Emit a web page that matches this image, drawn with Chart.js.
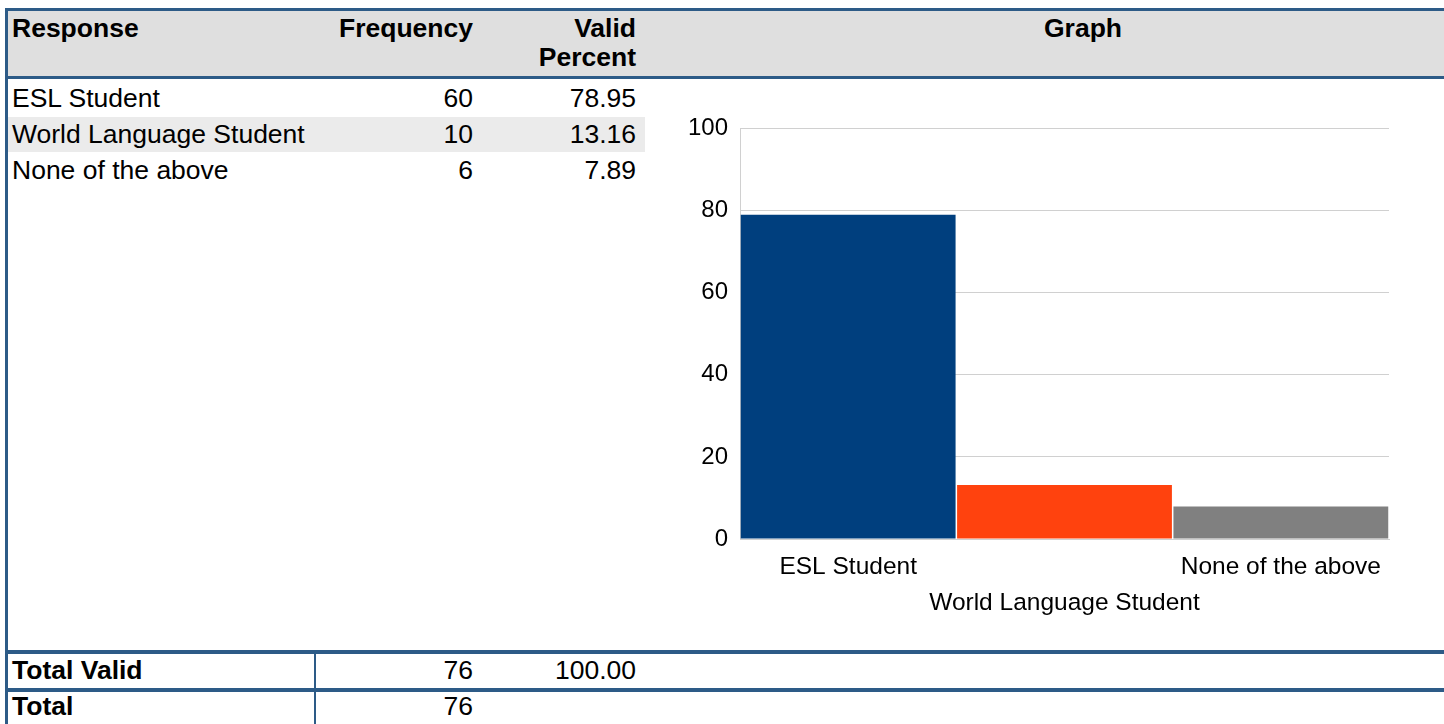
<!DOCTYPE html>
<html>
<head>
<meta charset="utf-8">
<script src="https://cdn.jsdelivr.net/npm/chart.js@4/dist/chart.umd.min.js"></script>
<style>
  body { margin: 0; width: 1444px; height: 724px; overflow: hidden; background: #fff;
         font-family: 'Liberation Sans', Arial, sans-serif; color: #000; position: relative; }
  .abs { position: absolute; }
  .hline { position: absolute; background: #2d5b87; }
  .vline { position: absolute; background: #2d5b87; }
  .txt { position: absolute; font-size: 26.5px; line-height: 29px; white-space: nowrap; }
  .b { font-weight: bold; }
  .r { text-align: right; }
</style>
</head>
<body>
<div class="abs" style="left:8px; top:10px; width:1436px; height:66px; background:#dfdfdf;"></div>
<div class="hline" style="left:5px; top:8px; width:1439px; height:3px;"></div>
<div class="hline" style="left:5px; top:76px; width:1439px; height:3px;"></div>
<div class="vline" style="left:5px; top:8px; width:3px; height:716px;"></div>

<div class="txt b" style="left:12px; top:14px;">Response</div>
<div class="txt b r" style="left:300px; width:173px; top:14px;">Frequency</div>
<div class="txt b r" style="left:480px; width:156px; top:14px;">Valid<br>Percent</div>
<div class="txt b" style="left:660px; width:846px; top:14px; text-align:center;">Graph</div>

<div id="rows"></div>

<div class="hline" style="left:5px; top:650px; width:1439px; height:4px;"></div>
<div class="hline" style="left:5px; top:688px; width:1439px; height:4px;"></div>
<div class="vline" style="left:314px; top:652px; width:2px; height:72px;"></div>
<div id="totals"></div>

<div class="abs" style="left:660px; top:102px; width:784px; height:528px;">
  <canvas id="graph"></canvas>
</div>

<script>
// Data
const responses = ['ESL Student', 'World Language Student', 'None of the above'];
const frequency = [60, 10, 6];
const validPercent = [78.95, 13.16, 7.89];
const totalValid = 76;
const totalValidPercent = 100.00;
const total = 76;
const yTicks = [0, 20, 40, 60, 80, 100];

const barColors = ['#003f7e', '#ff420e', '#808080'];

// table rows
const rowsDiv = document.getElementById('rows');
responses.forEach((resp, i) => {
  const top = 84 + i * 36;
  if (i % 2 == 1) {
    const band = document.createElement('div');
    band.className = 'abs';
    band.style.cssText = `left:8px; top:${top - 3}px; width:637px; height:35px; background:#ebebeb;`;
    rowsDiv.appendChild(band);
  }
  rowsDiv.insertAdjacentHTML('beforeend',
    `<div class="txt" style="left:12px; top:${top}px;">${resp}</div>` +
    `<div class="txt r" style="left:400px; width:73px; top:${top}px;">${frequency[i]}</div>` +
    `<div class="txt r" style="left:500px; width:136px; top:${top}px;">${validPercent[i].toFixed(2)}</div>`);
});

document.getElementById('totals').innerHTML =
  `<div class="txt b" style="left:12px; top:656px;">Total Valid</div>` +
  `<div class="txt r" style="left:400px; width:73px; top:656px;">${totalValid}</div>` +
  `<div class="txt r" style="left:500px; width:136px; top:656px;">${totalValidPercent.toFixed(2)}</div>` +
  `<div class="txt b" style="left:12px; top:692px;">Total</div>` +
  `<div class="txt r" style="left:400px; width:73px; top:692px;">${total}</div>`;

// graph
new Chart(
  document.getElementById('graph'),
  {
    type: 'bar',
    data: {
      // stagger the middle label onto a second line
      labels: responses.map((r, i) => i % 2 == 1 ? ['', r] : r),
      datasets: [
        {
          label: 'Valid Percent',
          data: validPercent,
          backgroundColor: barColors,
          borderWidth: 0,
          barPercentage: 0.993,
          categoryPercentage: 1
        }
      ]
    },
    options: {
      responsive: true,
      maintainAspectRatio: false,
      animation: false,
      layout: { padding: { top: 0, right: 55, left: 0, bottom: 0 } },
      plugins: {
        legend: { display: false },
        tooltip: { enabled: false }
      },
      scales: {
        x: {
          grid: { display: false },
          border: { color: '#d0d0d0' },
          ticks: {
            color: '#000',
            maxRotation: 0,
            minRotation: 0,
            autoSkip: false,
            padding: 2,
            font: { family: 'Liberation Sans', size: 24.5, lineHeight: '36px' }
          },
          afterFit: (scale) => { scale.height = 91; }
        },
        y: {
          min: 0,
          max: 100,
          afterBuildTicks: (scale) => { scale.ticks = yTicks.map(v => ({ value: v })); },
          grid: { color: '#d0d0d0', drawTicks: false },
          border: { color: '#d0d0d0' },
          ticks: {
            color: '#000',
            padding: 12,
            font: { family: 'Liberation Sans', size: 24 }
          },
          afterFit: (scale) => { scale.width = 80; }
        }
      }
    }
  }
);
</script>
</body>
</html>
